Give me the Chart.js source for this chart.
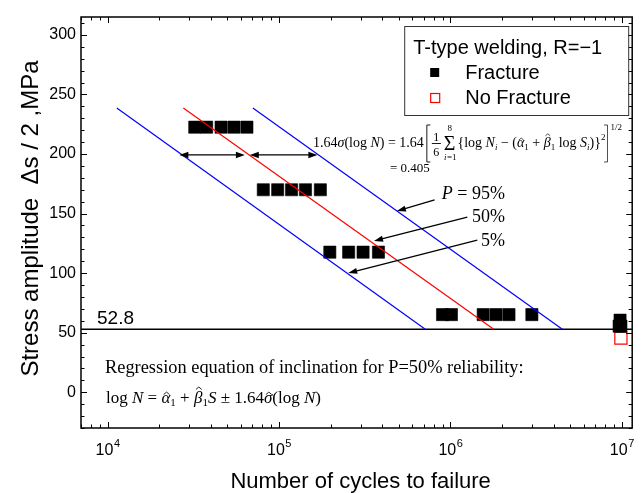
<!DOCTYPE html>
<html><head><meta charset="utf-8">
<script src="https://cdn.jsdelivr.net/npm/chart.js@4.4.1/dist/chart.umd.min.js"></script>
<style>html,body{margin:0;padding:0;background:#fff;}#wrap{width:642px;height:493px;}</style>
</head><body><div id="wrap"><canvas id="c" width="642" height="493"></canvas></div>
<script>
// ---- data ----
const fractureN = [32270, 37860, 45950, 54640, 65020,
                   81010, 98290, 118500, 142800, 174400,
                   198000, 255000, 309500, 380600,
                   900000, 1014000, 1554000, 1848000, 2197000, 2988000,
                   9770000, 9650000, 9880000];
const fractureS = [222.5, 222.5, 222.5, 222.5, 222.5,
                   170, 170, 170, 170, 170,
                   117.6, 117.6, 117.6, 117.6,
                   65.2, 65.2, 65.2, 65.2, 65.2, 65.2,
                   60.5, 55.5, 55.5];
const noFractureN = [9880000];
const noFractureS = [45.5];
const lineS = [238.6, 52.8];
const p5N  = [11320, 714000];
const p50N = [27670, 1790000];
const p95N = [70410, 4500000];
const fatigueLimit = 52.8;
const xRange = [7000, 11500000];
const yRange = [-30, 315];
const xMajorTicks = [1e4, 1e5, 1e6, 1e7];
const yMajorTicks = [0, 50, 100, 150, 200, 250, 300];
const yMinorStep = 10;
// annotation arrows in data coordinates
const doubleArrows = [ {n1: 26240, n2: 63240, s: 199.2}, {n1: 67600, n2: 167500, s: 199.2} ];
const leaderArrows = [
  {label: '95%', n1: 809000, s1: 161.4, n2: 487500, s2: 152.1, ln: 2080000, ls: 167.3},
  {label: '50%', n1: 1256000, s1: 147.1, n2: 358500, s2: 127.0, ln: 2080000, ls: 148.0},
  {label: '5%',  n1: 1435000, s1: 127.8, n2: 253400, s2: 100.1, ln: 2080000, ls: 127.8}
];

const SANS = '"Liberation Sans", Arial, sans-serif';
const SERIF = '"Liberation Serif", "Times New Roman", serif';
const toPts = (xs, ys) => xs.map((v, i) => ({x: v, y: ys[i]}));

function rich(ctx, x, yBase, segs, baseSize) {
  for (const s of segs) {
    const size = s.size || baseSize;
    ctx.font = (s.it ? 'italic ' : '') + size + 'px ' + SERIF;
    const dy = s.dy || 0;
    const w = ctx.measureText(s.t).width;
    ctx.fillText(s.t, x, yBase + dy);
    if (s.hat) {
      const cx = x + w * 0.58, top = yBase + dy - size * (s.hatH || 0.62);
      ctx.beginPath();
      ctx.moveTo(cx - size * 0.17, top + size * 0.12);
      ctx.lineTo(cx, top - size * 0.02);
      ctx.lineTo(cx + size * 0.17, top + size * 0.12);
      ctx.lineWidth = Math.max(0.7, size * 0.05);
      ctx.stroke();
    }
    x += w + (s.sp || 0);
  }
  return x;
}
function arrowHead(ctx, x1, y1, x2, y2, len, half) {
  const ang = Math.atan2(y2 - y1, x2 - x1);
  ctx.beginPath();
  ctx.moveTo(x2, y2);
  ctx.lineTo(x2 - len * Math.cos(ang) + half * Math.sin(ang), y2 - len * Math.sin(ang) - half * Math.cos(ang));
  ctx.lineTo(x2 - len * Math.cos(ang) - half * Math.sin(ang), y2 - len * Math.sin(ang) + half * Math.cos(ang));
  ctx.closePath();
  ctx.fill();
}

const deco = {
  id: 'deco',
  afterDraw(chart) {
    const {ctx, chartArea: a, scales: {x, y}} = chart;
    ctx.save();
    ctx.fillStyle = '#000'; ctx.strokeStyle = '#000';
    // frame
    ctx.lineWidth = 1.5;
    ctx.strokeRect(a.left, a.top, a.right - a.left, a.bottom - a.top);
    // y ticks (inward, both sides)
    ctx.lineWidth = 1;
    for (let v = Math.ceil(yRange[0] / yMinorStep) * yMinorStep; v <= yRange[1]; v += yMinorStep) {
      const py = Math.round(y.getPixelForValue(v)) + 0.5;
      const L = (v % 50 === 0) ? 6 : 3.5;
      ctx.beginPath();
      ctx.moveTo(a.left, py); ctx.lineTo(a.left + L, py);
      ctx.moveTo(a.right, py); ctx.lineTo(a.right - L, py);
      ctx.stroke();
    }
    // x ticks (inward, both sides)
    for (let d = 3; d <= 7; d++) {
      for (let m = 1; m <= 9; m++) {
        const v = m * Math.pow(10, d);
        if (v < xRange[0] || v > xRange[1]) continue;
        const px = Math.round(x.getPixelForValue(v)) + 0.5;
        const L = (m === 1) ? 6 : 3.5;
        ctx.beginPath();
        ctx.moveTo(px, a.bottom); ctx.lineTo(px, a.bottom - L);
        ctx.moveTo(px, a.top); ctx.lineTo(px, a.top + L);
        ctx.stroke();
      }
    }
    // y tick labels
    ctx.font = '16px ' + SANS;
    ctx.textAlign = 'right'; ctx.textBaseline = 'middle';
    for (const v of yMajorTicks) ctx.fillText(String(v), a.left - 5, y.getPixelForValue(v));
    // x tick labels 10^n
    ctx.textBaseline = 'alphabetic'; ctx.textAlign = 'left';
    for (const v of xMajorTicks) {
      const e = String(Math.round(Math.log10(v)));
      ctx.font = '16px ' + SANS; const w1 = ctx.measureText('10').width;
      ctx.font = '11px ' + SANS; const w2 = ctx.measureText(e).width;
      const px = x.getPixelForValue(v), sx = px - (w1 + w2) / 2;
      ctx.font = '16px ' + SANS; ctx.fillText('10', sx, a.bottom + 27);
      ctx.font = '11px ' + SANS; ctx.fillText(e, sx + w1 + 0.5, a.bottom + 19);
    }
    // axis titles
    ctx.font = '22px ' + SANS; ctx.textAlign = 'center';
    ctx.fillText('Number of cycles to failure', (a.left + a.right) / 2 + 4, a.bottom + 60);
    ctx.save();
    ctx.font = '24px ' + SANS;
    ctx.translate(38, (a.top + a.bottom) / 2 - 4);
    ctx.rotate(-Math.PI / 2);
    ctx.fillText('Stress amplitude  \u0394s / 2 ,MPa', 0, 0);
    ctx.restore();
    // fatigue limit label
    ctx.font = '19px ' + SANS; ctx.textAlign = 'left';
    ctx.fillText(String(fatigueLimit), a.left + 16, y.getPixelForValue(fatigueLimit) - 5);

    // double arrows
    ctx.lineWidth = 1.3;
    for (const d of doubleArrows) {
      const x1 = x.getPixelForValue(d.n1), x2 = x.getPixelForValue(d.n2), py = y.getPixelForValue(d.s);
      ctx.beginPath(); ctx.moveTo(x1 + 4, py); ctx.lineTo(x2 - 4, py); ctx.stroke();
      arrowHead(ctx, x2, py, x1, py, 9, 3.2);
      arrowHead(ctx, x1, py, x2, py, 9, 3.2);
    }
    // leader arrows and labels
    for (const l of leaderArrows) {
      const x1 = x.getPixelForValue(l.n1), y1 = y.getPixelForValue(l.s1);
      const x2 = x.getPixelForValue(l.n2), y2 = y.getPixelForValue(l.s2);
      const ang = Math.atan2(y2 - y1, x2 - x1);
      ctx.beginPath(); ctx.moveTo(x1, y1); ctx.lineTo(x2 - 5 * Math.cos(ang), y2 - 5 * Math.sin(ang)); ctx.stroke();
      arrowHead(ctx, x1, y1, x2, y2, 9, 3);
      const lx = x.getPixelForValue(l.ln), ly = y.getPixelForValue(l.ls) + 6;
      ctx.textAlign = 'left';
      if (l.label === '95%') {
        ctx.font = '18px ' + SERIF; const wR = ctx.measureText(' = 95%').width;
        ctx.font = 'italic 18px ' + SERIF; const wP = ctx.measureText('P').width;
        const sx = lx - wR - wP;
        ctx.fillText('P', sx, ly);
        ctx.font = '18px ' + SERIF; ctx.fillText(' = 95%', sx + wP, ly);
      } else {
        ctx.font = '18px ' + SERIF; ctx.textAlign = 'right';
        ctx.fillText(l.label, lx, ly);
      }
    }
    ctx.textAlign = 'left';

    // formula (top)
    ctx.lineWidth = 0.9;
    const fb = a.top + 130;
    let fx = rich(ctx, a.left + 232, fb, [{t:'1.64'},{t:'\u03C3', it:1},{t:'(log '},{t:'N', it:1},{t:') = 1.64'}], 14);
    fx += 3;
    ctx.beginPath(); ctx.moveTo(fx + 3.5, fb - 22); ctx.lineTo(fx, fb - 22); ctx.lineTo(fx, fb + 15); ctx.lineTo(fx + 3.5, fb + 15); ctx.stroke();
    fx += 5;
    ctx.font = '12px ' + SERIF; ctx.textAlign = 'center';
    ctx.fillText('1', fx + 4.5, fb - 6); ctx.fillText('6', fx + 4.5, fb + 9);
    ctx.beginPath(); ctx.moveTo(fx, fb - 3.5); ctx.lineTo(fx + 9, fb - 3.5); ctx.stroke();
    fx += 12;
    ctx.font = '20px ' + SERIF; const wS = ctx.measureText('\u03A3').width;
    ctx.fillText('\u03A3', fx + wS / 2, fb + 3);
    ctx.font = '9px ' + SERIF; ctx.fillText('8', fx + wS / 2, fb - 16);
    ctx.font = 'italic 9px ' + SERIF; ctx.fillText('i', fx + wS / 2 - 4.5, fb + 13);
    ctx.font = '9px ' + SERIF; ctx.fillText('=1', fx + wS / 2 + 2, fb + 13);
    ctx.textAlign = 'left';
    fx += wS + 2;
    fx = rich(ctx, fx, fb, [{t:'{log '},{t:'N', it:1},{t:'i', it:1, size:9, dy:3},{t:' \u2212 ('},{t:'\u03B1', it:1, hat:1},{t:'1', size:9, dy:3},{t:' + '},{t:'\u03B2', it:1, hat:1, hatH:0.92},{t:'1', size:9, dy:3},{t:' log '},{t:'S', it:1},{t:'i', it:1, size:9, dy:3},{t:')}'},{t:'2', size:9, dy:-7}], 14);
    fx += 2;
    ctx.beginPath(); ctx.moveTo(fx - 3.5, fb - 22); ctx.lineTo(fx, fb - 22); ctx.lineTo(fx, fb + 15); ctx.lineTo(fx - 3.5, fb + 15); ctx.stroke();
    rich(ctx, fx + 3, fb - 17, [{t:'1/2'}], 9);
    rich(ctx, a.left + 309, fb + 25, [{t:'= 0.405'}], 13);

    // regression text (bottom)
    const t1 = 'Regression equation of inclination for P=50% reliability:';
    ctx.font = '17px ' + SERIF;
    const fs = 17 * 419 / ctx.measureText(t1).width;
    ctx.font = fs.toFixed(2) + 'px ' + SERIF;
    ctx.fillText(t1, a.left + 24, a.bottom - 55);
    ctx.lineWidth = 1;
    rich(ctx, a.left + 25, a.bottom - 25, [{t:'log '},{t:'N', it:1},{t:' = '},{t:'\u03B1', it:1, hat:1},{t:'1', size:11, dy:3},{t:' + '},{t:'\u03B2', it:1, hat:1, hatH:0.92},{t:'1', size:11, dy:3},{t:'S', it:1},{t:' \u00B1 1.64'},{t:'\u03C3', it:1, hat:1},{t:'(log '},{t:'N', it:1},{t:')'}], 17);

    // legend
    const lx0 = a.right - 228, ly0 = a.top + 9, lw = 224, lh = 89;
    ctx.fillStyle = '#fff'; ctx.fillRect(lx0, ly0, lw, lh);
    ctx.strokeStyle = '#333'; ctx.lineWidth = 1;
    ctx.strokeRect(lx0 + 0.5, ly0 + 0.5, lw, lh);
    ctx.fillStyle = '#000';
    ctx.font = '20px ' + SANS; ctx.textBaseline = 'middle';
    ctx.fillText('T-type welding, R=\u22121', lx0 + 9, ly0 + 22);
    const ds = chart.data.datasets;
    ctx.fillStyle = ds[4].backgroundColor; ctx.fillRect(lx0 + 26, ly0 + 42, 9, 9);
    ctx.strokeStyle = ds[5].borderColor; ctx.lineWidth = 1.2; ctx.strokeRect(lx0 + 26.5, ly0 + 67.5, 9, 9);
    ctx.fillStyle = '#000';
    ctx.fillText(ds[4].label, lx0 + 61, ly0 + 47);
    ctx.fillText(ds[5].label, lx0 + 61, ly0 + 72);
    ctx.restore();
  }
};

new Chart(document.getElementById('c'), {
  type: 'scatter',
  data: {
    datasets: [
      {label: 'P=5%', data: toPts(p5N, lineS), showLine: true, borderColor: '#0000ff', borderWidth: 1.2, pointRadius: 0, order: 0},
      {label: 'P=50%', data: toPts(p50N, lineS), showLine: true, borderColor: '#ff0000', borderWidth: 1.2, pointRadius: 0, order: 0},
      {label: 'P=95%', data: toPts(p95N, lineS), showLine: true, borderColor: '#0000ff', borderWidth: 1.2, pointRadius: 0, order: 0},
      {label: 'limit', data: [{x: xRange[0], y: fatigueLimit}, {x: xRange[1], y: fatigueLimit}], showLine: true, borderColor: '#000', borderWidth: 1.5, pointRadius: 0, order: 0},
      {label: 'Fracture', data: toPts(fractureN, fractureS), pointStyle: 'rect', pointRadius: 8.6, backgroundColor: '#000', borderColor: '#000', borderWidth: 0.6, order: 1},
      {label: 'No Fracture', data: toPts(noFractureN, noFractureS), pointStyle: 'rect', pointRadius: 8.6, backgroundColor: 'rgba(0,0,0,0)', borderColor: '#ff0000', borderWidth: 1.2, order: 1}
    ]
  },
  options: {
    responsive: false, animation: false, devicePixelRatio: 1,
    layout: {padding: {left: 81, right: 6, top: 17, bottom: 65}},
    plugins: {legend: {display: false}, tooltip: {enabled: false}},
    scales: {
      x: {type: 'logarithmic', min: xRange[0], max: xRange[1], display: false},
      y: {type: 'linear', min: yRange[0], max: yRange[1], display: false}
    }
  },
  plugins: [deco]
});
</script></body></html>
